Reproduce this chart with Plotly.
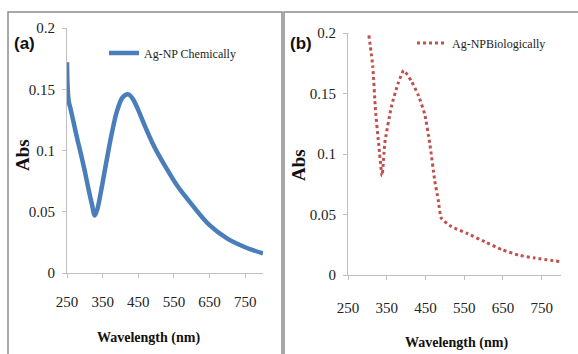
import plotly.graph_objects as go

W, H = 578, 354

# ---- Data (a): chemically synthesised Ag-NP ----
wl_a = [250, 252, 255, 260, 270, 280, 290, 300, 310, 320, 328, 335, 345, 360, 375,
        390, 405, 415, 420, 425, 435, 450, 470, 490, 510, 530, 560, 600, 650, 700, 750, 800]
abs_a = [0.172, 0.150, 0.140, 0.134, 0.121, 0.108, 0.096, 0.083, 0.069, 0.056, 0.047,
         0.052, 0.066, 0.090, 0.113, 0.132, 0.143, 0.1455, 0.146, 0.1455, 0.142, 0.133,
         0.119, 0.106, 0.095, 0.085, 0.071, 0.056, 0.039, 0.028, 0.021, 0.016]

# ---- Data (b): biologically synthesised Ag-NP ----
wl_b = [304, 314, 321, 329, 338, 345, 362, 379, 394, 414, 431, 448, 461, 474, 483,
        491, 517, 560, 603, 647, 690, 733, 800]
abs_b = [0.198, 0.172, 0.136, 0.109, 0.082, 0.109, 0.139, 0.158, 0.169, 0.160, 0.149,
         0.133, 0.109, 0.078, 0.062, 0.047, 0.040, 0.034, 0.0275, 0.021, 0.0165, 0.014,
         0.011]

x_ticks = [250, 350, 450, 550, 650, 750]
y_ticks = [0, 0.05, 0.1, 0.15, 0.2]

name_a = "Ag-NP Chemically"
name_b = "Ag-NPBiologically"

def px(x):
    return x / W

def py(y):
    return 1 - y / H

fig = go.Figure()
fig.add_trace(go.Scatter(x=wl_a, y=abs_a, mode="lines", name=name_a,
                         line=dict(color="#4A7EBB", width=4.5, shape="spline", smoothing=1.0),
                         xaxis="x", yaxis="y", legend="legend"))
fig.add_trace(go.Scatter(x=wl_b, y=abs_b, mode="lines", name=name_b,
                         line=dict(color="#C0504D", width=3, dash="3px,3px", shape="spline", smoothing=0.5),
                         xaxis="x2", yaxis="y2", legend="legend2"))

serif = "Liberation Serif, Times New Roman, serif"
ax_common = dict(showgrid=False, zeroline=False, showline=True, linecolor="#BFBFBF", linewidth=1,
                 ticks="outside", tickcolor="#BFBFBF", ticklen=4, tickwidth=1, automargin=False,
                 tickfont=dict(family=serif, size=15, color="#222"))

fig.update_layout(
    width=W, height=H, margin=dict(l=0, r=0, t=0, b=0, autoexpand=False),
    paper_bgcolor="white", plot_bgcolor="rgba(0,0,0,0)",
    xaxis=dict(domain=[px(67), px(263)], range=[250, 800], tickvals=x_ticks, anchor="y",
               ticklabelstandoff=11, **ax_common),
    yaxis=dict(domain=[py(273), py(28)], range=[0, 0.2], tickvals=y_ticks, anchor="x",
               ticklabelstandoff=4, **ax_common),
    xaxis2=dict(domain=[px(348), px(561)], range=[250, 800], tickvals=x_ticks, anchor="y2",
                ticklabelstandoff=15, **ax_common),
    yaxis2=dict(domain=[py(275), py(33)], range=[0, 0.2], tickvals=y_ticks, anchor="x2",
                ticklabelstandoff=4, **ax_common),
    legend=dict(x=px(104), y=py(53), xanchor="left", yanchor="middle", bgcolor="rgba(0,0,0,0)",
                font=dict(family=serif, size=12, color="#222"), itemwidth=30, tracegroupgap=0),
    legend2=dict(x=px(412), y=py(43), xanchor="left", yanchor="middle", bgcolor="rgba(0,0,0,0)",
                 font=dict(family=serif, size=12, color="#222"), itemwidth=30),
    showlegend=True,
)

# panel frames
frame = dict(type="rect", xref="paper", yref="paper", line=dict(color="#8C8C8C", width=1.5),
             fillcolor="rgba(0,0,0,0)", layer="below")
fig.add_shape(x0=px(8), x1=px(282), y0=py(360), y1=py(12), **frame)
fig.add_shape(x0=px(284), x1=px(590), y0=py(360), y1=py(12), **frame)

ann = []
ann.append(dict(text="<b>(a)</b>", x=px(25), y=py(44), font=dict(family="Liberation Sans Narrow, Liberation Sans", size=17, color="#111")))
ann.append(dict(text="<b>(b)</b>", x=px(301), y=py(44), font=dict(family="Liberation Sans Narrow, Liberation Sans", size=17, color="#111")))
ann.append(dict(text="<b>Abs</b>", x=px(22), y=py(155), textangle=-90, font=dict(family=serif, size=19, color="#111")))
ann.append(dict(text="<b>Abs</b>", x=px(298), y=py(165), textangle=-90, font=dict(family=serif, size=19, color="#111")))
ann.append(dict(text="<b>Wavelength (nm)</b>", x=px(148), y=py(338), font=dict(family=serif, size=14, color="#111")))
ann.append(dict(text="<b>Wavelength (nm)</b>", x=px(456), y=py(343), font=dict(family=serif, size=14, color="#111")))
for a in ann:
    a.update(xref="paper", yref="paper", showarrow=False, xanchor="center", yanchor="middle")
    fig.add_annotation(**a)

fig.write_html("out.html", config={"displayModeBar": False},
               post_script="document.body.style.margin='0px';document.body.style.overflow='hidden';")
